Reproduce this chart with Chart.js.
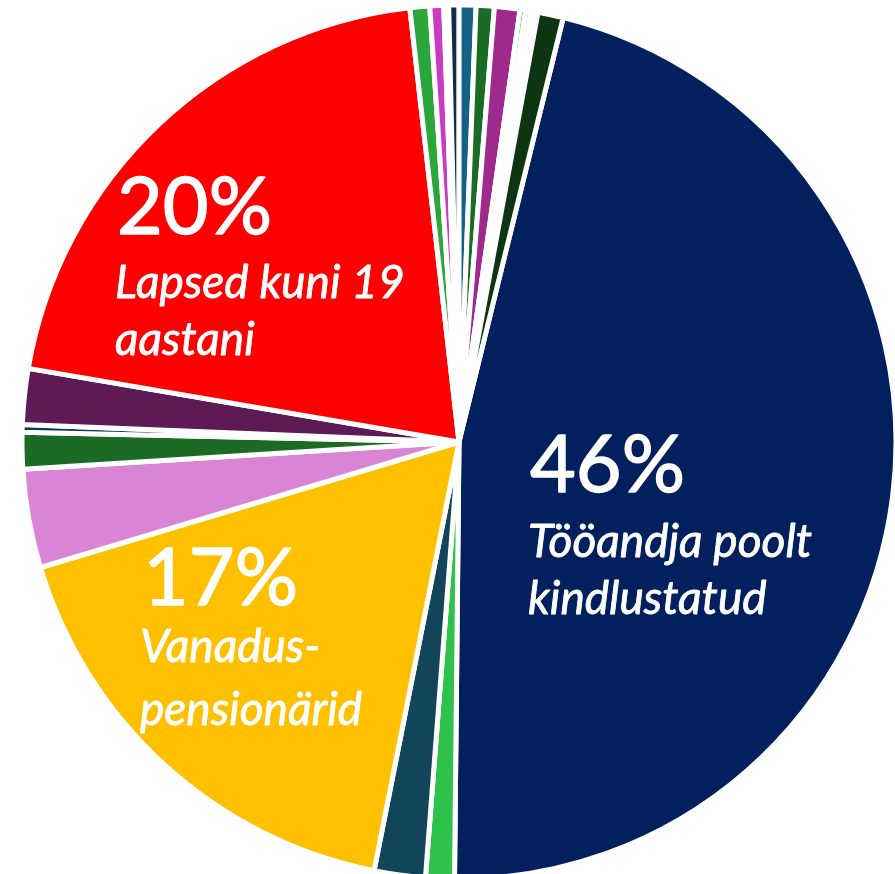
<!DOCTYPE html>
<html>
<head>
<meta charset="utf-8">
<script src="https://cdn.jsdelivr.net/npm/chart.js@4"></script>
<style>
  html, body { margin: 0; padding: 0; background: #fff; overflow: hidden; }
  #wrap { width: 895px; height: 874px; position: relative; }
</style>
</head>
<body>
<div id="wrap"><canvas id="myChart"></canvas></div>
<script>
// slice shares (%), clockwise from the navy slice
const categories = [
  'Tööandja poolt kindlustatud', 'muu 1', 'muu 2', 'Vanaduspensionärid', 'muu 3',
  'muu 4', 'muu 5', 'muu 6', 'Lapsed kuni 19 aastani', 'muu 7',
  'muu 8', 'muu 9', 'muu 10', 'muu 11', 'muu 12',
  'muu 13', 'muu 14', 'muu 15', 'muu 16', 'muu 17'
]
const shares = [
  46.33, 1.06, 1.89, 17.25, 3.64,
  1.35, 0.28, 2.06, 20.51, 0.73,
  0.51, 0.18, 0.38, 0.62, 0.67,
  0.94, 0.21, 0.20, 0.25, 0.94
]
const colors = [
  '#02205e', '#2ec24a', '#12455a', '#ffc000', '#da84d6',
  '#1b6b25', '#0f3a50', '#5e1a55', '#ff0000', '#2ba63a',
  '#c83dc0', '#f2f2f2', '#0f2e44', '#156286', '#1a6b25',
  '#9e2a8e', '#2bb34a', '#e88de0', '#ffffff', '#0e3512'
]
// text labels: [text, dx from centre, baseline dy from centre, font, stroke]
const bigFont = '400 79px Lato'
const smallFont = 'italic 400 46px Lato'
const labels = [
  ['20%', -342, -208, bigFont, 1.4],
  ['Lapsed kuni 19', -344, -144, smallFont, 0.8],
  ['aastani', -344, -87, smallFont, 0.8],
  ['46%', 71, 50, bigFont, 1.4],
  ['Tööandja poolt', 69, 115, smallFont, 0.8],
  ['kindlustatud', 69, 172, smallFont, 0.8],
  ['17%', -316, 163, bigFont, 1.4],
  ['Vanadus-', -319, 220, smallFont, 0.8],
  ['pensionärid', -319, 283, smallFont, 0.8]
]

const textPlugin = {
  id: 'sliceText',
  afterDatasetsDraw(chart) {
    const arc = chart.getDatasetMeta(0).data[0]
    const ctx = chart.ctx
    ctx.save()
    ctx.fillStyle = '#fff'
    ctx.strokeStyle = '#fff'
    ctx.lineJoin = 'round'
    ctx.textBaseline = 'alphabetic'
    ctx.textAlign = 'left'
    labels.forEach(l => {
      ctx.font = l[3]
      ctx.lineWidth = l[4]
      ctx.fillText(l[0], arc.x + l[1], arc.y + l[2])
      ctx.strokeText(l[0], arc.x + l[1], arc.y + l[2])
    })
    ctx.restore()
  }
}

const ctx = document.getElementById('myChart').getContext('2d')
new Chart(ctx, {
  type: 'pie',
  data: {
    labels: categories,
    datasets: [{
      data: shares,
      backgroundColor: colors,
      borderColor: '#ffffff',
      borderWidth: 5
    }]
  },
  options: {
    responsive: true,
    maintainAspectRatio: false,
    animation: false,
    rotation: 13.8,
    radius: 437,
    layout: { padding: { left: 23, top: 10, right: 0, bottom: 0 } },
    plugins: { legend: { display: false }, tooltip: { enabled: false } }
  },
  plugins: [textPlugin]
})
</script>
</body>
</html>
